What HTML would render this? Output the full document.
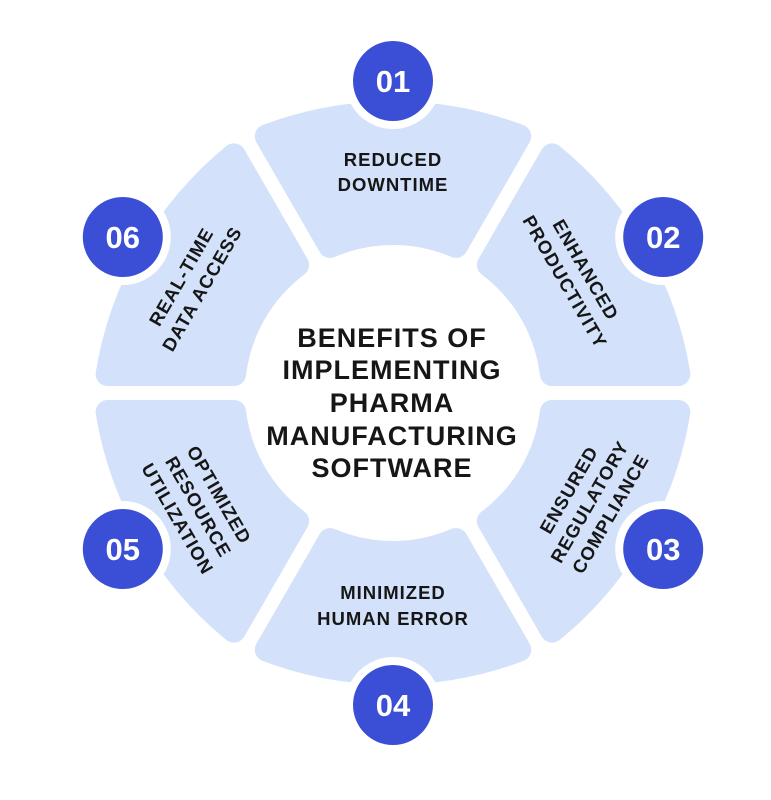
<!DOCTYPE html>
<html><head><meta charset="utf-8"><style>
html,body{margin:0;padding:0;background:#fff;}
svg{display:block;}
text{font-family:"Liberation Sans",sans-serif;font-weight:bold;}
</style></head><body>
<svg id="s" width="771" height="800" viewBox="0 0 771 800" xmlns="http://www.w3.org/2000/svg">
<g id="segs" fill="#d3e2fa" stroke="#d3e2fa" stroke-width="24" stroke-linejoin="round"></g>
<g id="circ"></g>
<g fill="#161616" font-size="18.5" text-anchor="middle" letter-spacing="1">
<text x="393" y="166">REDUCED</text>
<text x="393" y="191">DOWNTIME</text>
<g transform="translate(575,276) rotate(60)"><text x="0" y="-6">ENHANCED</text><text x="0" y="18">PRODUCTIVITY</text></g>
<g transform="translate(590,502) rotate(-60)"><text x="0" y="-18">ENSURED</text><text x="0" y="6">REGULATORY</text><text x="0" y="30">COMPLIANCE</text></g>
<text x="393" y="599">MINIMIZED</text>
<text x="393" y="625">HUMAN ERROR</text>
<g transform="translate(198,507) rotate(60)"><text x="0" y="-18">OPTIMIZED</text><text x="0" y="6">RESOURCE</text><text x="0" y="30">UTILIZATION</text></g>
<g transform="translate(192,283) rotate(-60)"><text x="0" y="-6">REAL-TIME</text><text x="0" y="18">DATA ACCESS</text></g>
</g>
<g fill="#161616" font-size="27" text-anchor="middle" letter-spacing="1">
<text x="392" y="347">BENEFITS OF</text>
<text x="392" y="379">IMPLEMENTING</text>
<text x="392" y="412">PHARMA</text>
<text x="392" y="445">MANUFACTURING</text>
<text x="392" y="477">SOFTWARE</text>
</g>
</svg>
<script>
(function(){
var cx=393,cy=393,ri=160,ro=286,ar=356,d=19,NS="http://www.w3.org/2000/svg";
var segs=document.getElementById('segs'),circ=document.getElementById('circ');
function pt(b,t,off){var r=b*Math.PI/180;var ux=Math.cos(r),uy=Math.sin(r),vx=-uy,vy=ux;return [cx+t*ux+off*vx,cy+t*uy+off*vy];}
var nums=["01","02","03","04","05","06"];
for(var i=0;i<6;i++){
 var a=-90+60*i,b1=a-30,b2=a+30;
 var ti=Math.sqrt(ri*ri-d*d),to=Math.sqrt(ro*ro-d*d);
 var i1=pt(b1,ti,d),o1=pt(b1,to,d),o2=pt(b2,to,-d),i2=pt(b2,ti,-d);
 var p=document.createElementNS(NS,'path');
 p.setAttribute('d','M'+i1+' L'+o1+' A'+ar+' '+ar+' 0 0 1 '+o2+' L'+i2+' A'+ri+' '+ri+' 0 0 0 '+i1+' Z');
 segs.appendChild(p);
 var r=a*Math.PI/180,x=cx+312*Math.cos(r),y=cy+312*Math.sin(r);
 var c=document.createElementNS(NS,'circle');c.setAttribute('cx',x);c.setAttribute('cy',y);c.setAttribute('r',48);c.setAttribute('fill','#fff');circ.appendChild(c);
 c=document.createElementNS(NS,'circle');c.setAttribute('cx',x);c.setAttribute('cy',y);c.setAttribute('r',40);c.setAttribute('fill','#3a4fd6');circ.appendChild(c);
 var t=document.createElementNS(NS,'text');t.setAttribute('x',x);t.setAttribute('y',y+11);t.setAttribute('fill','#fff');t.setAttribute('font-size','31');t.setAttribute('text-anchor','middle');t.textContent=nums[i];circ.appendChild(t);
}
})();
</script>
</body></html>
